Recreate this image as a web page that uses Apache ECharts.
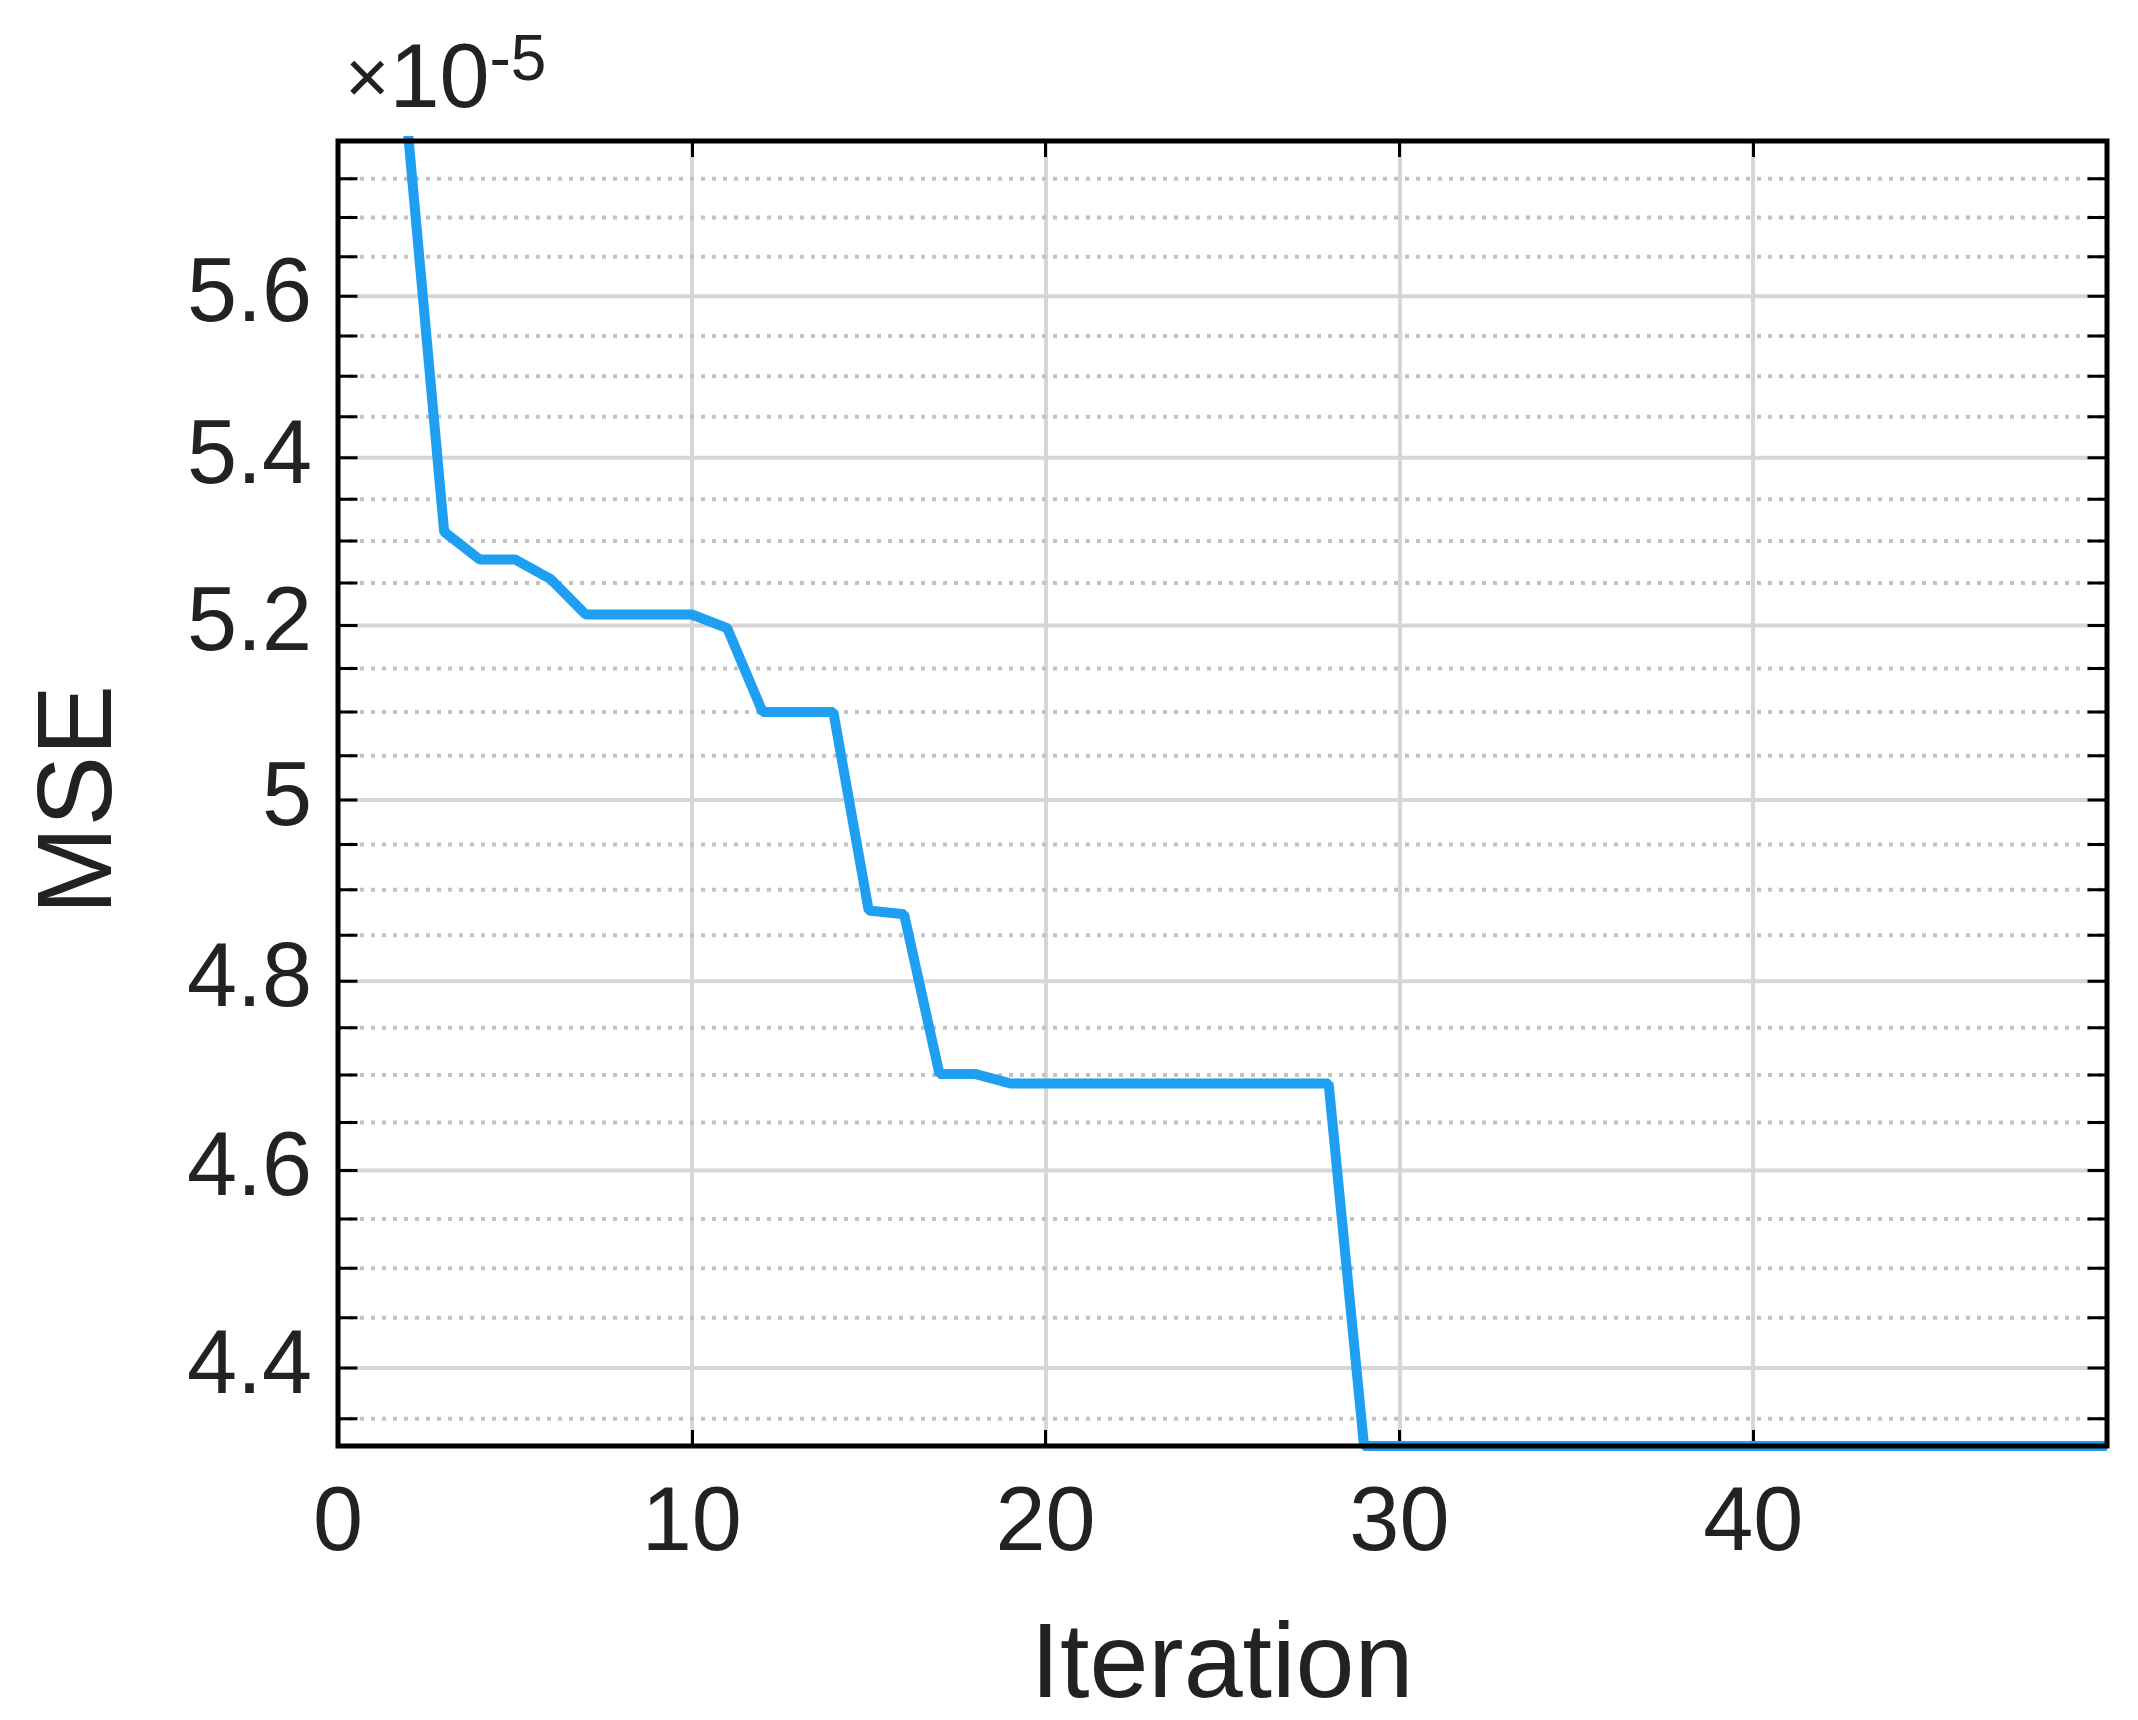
<!DOCTYPE html>
<html>
<head>
<meta charset="utf-8">
<script src="https://cdn.jsdelivr.net/npm/echarts@6/dist/echarts.min.js"></script>
<style>html,body{margin:0;padding:0;background:#fff}#main{width:2138px;height:1720px}</style>
</head>
<body>
<div id="main"></div>
<script>
// 数据 (MSE, 单位 1e-5)
var iterations = [1,2,3,4,5,6,7,8,9,10,11,12,13,14,15,16,17,18,19,20,21,22,23,24,25,26,27,28,29,30,31,32,33,34,35,36,37,38,39,40,41,42,43,44,45,46,47,48,49,50];
var mse = [6.5,5.799,5.311,5.278,5.278,5.255,5.213,5.213,5.213,5.213,5.197,5.100,5.100,5.100,4.877,4.873,4.701,4.701,4.691,4.691,4.691,4.691,4.691,4.691,4.691,4.691,4.691,4.691,
  4.3235,4.3235,4.3235,4.3235,4.3235,4.3235,4.3235,4.3235,4.3235,4.3235,4.3235,4.3235,4.3235,4.3235,4.3235,4.3235,4.3235,4.3235,4.3235,4.3235,4.3235,4.3235];
var yMajor = [4.4,4.6,4.8,5.0,5.2,5.4,5.6];
var yMinor = [4.35,4.45,4.5,4.55,4.65,4.7,4.75,4.85,4.9,4.95,5.05,5.1,5.15,5.25,5.3,5.35,5.45,5.5,5.55,5.65,5.7,5.75];
var xTicks = [0,10,20,30,40];
var yMin = 4.3235, yMax = 5.799;

var lg = function(v){ return Math.log10(v); };
var chart = echarts.init(document.getElementById('main'));
var font = 'Arial, "Liberation Sans", sans-serif';
var allTicks = yMajor.concat(yMinor).map(lg);

// 网格线和刻度: 用折线画
function hLine(v, style, x0, x1){
    return {type: 'line', silent: true, symbol: 'none', z: 1, lineStyle: style,
        data: [[x0, lg(v)], [x1, lg(v)]]};
}
var series = [];
yMajor.forEach(function(v){ series.push(hLine(v, {color: '#d6d6d6', width: 4}, 0, 50)); });
yMinor.forEach(function(v){ series.push(hLine(v, {color: '#c2c2c2', width: 4, type: [4, 7]}, 0, 50)); });
yMajor.concat(yMinor).forEach(function(v){
    series.push(hLine(v, {color: '#000', width: 3}, 0, 0.55));
    series.push(hLine(v, {color: '#000', width: 3}, 49.45, 50));
});
series.push({
    type: 'line', clip: true, symbol: 'none', z: 5,
    lineStyle: {color: '#1E9FF2', width: 10},
    data: iterations.map(function(x, i){ return [x, lg(mse[i])]; })
});

var option = {
    backgroundColor: '#fff',
    animation: false,
    grid: {left: 338, right: 31, top: 141, bottom: 274, show: true, borderColor: '#000', borderWidth: 5, backgroundColor: 'transparent', z: 10},
    xAxis: [
        {
            type: 'value', min: 0, max: 50, interval: 10,
            axisLine: {show: false},
            axisTick: {show: true, inside: true, length: 16, lineStyle: {color: '#000', width: 3}},
            axisLabel: {fontSize: 90, color: '#222', fontFamily: font, margin: 34,
                formatter: function(v){ return v >= 50 ? '' : v; }},
            splitLine: {show: true, lineStyle: {color: '#d6d6d6', width: 4}}
        },
        {
            type: 'value', min: 0, max: 50, interval: 10, position: 'top',
            axisLine: {show: false}, axisLabel: {show: false}, splitLine: {show: false},
            axisTick: {show: true, inside: true, length: 16, lineStyle: {color: '#000', width: 3}}
        }
    ],
    yAxis: {
        type: 'value', min: lg(yMin), max: lg(yMax),
        axisLine: {show: false}, splitLine: {show: false},
        axisTick: {show: false},
        axisLabel: {fontSize: 90, color: '#222', fontFamily: font, margin: 26,
            customValues: yMajor.map(lg),
            formatter: function(v){ return String(Math.round(Math.pow(10, v) * 10) / 10); }}
    },
    series: series,
    graphic: [
        {type: 'text', left: 345, top: 30, style: {
            text: '{a|×}{b|10}{c|-5}', fill: '#222',
            rich: {a: {fontSize: 76, fontFamily: font, fill: '#222'},
                   b: {fontSize: 90, fontFamily: font, fill: '#222'},
                   c: {fontSize: 64, fontFamily: font, fill: '#222', verticalAlign: 'top', padding: [0, 0, 40, 0]}}}},
        {type: 'text', x: 1222, y: 1668, style: {text: 'Iteration', fontSize: 106, fontFamily: font, fill: '#222', align: 'center', verticalAlign: 'middle'}},
        {type: 'text', x: 82, y: 800, rotation: Math.PI / 2, style: {text: 'MSE', fontSize: 106, fontFamily: font, fill: '#222', align: 'center', verticalAlign: 'middle'}}
    ]
};
chart.setOption(option);
</script>
</body>
</html>
